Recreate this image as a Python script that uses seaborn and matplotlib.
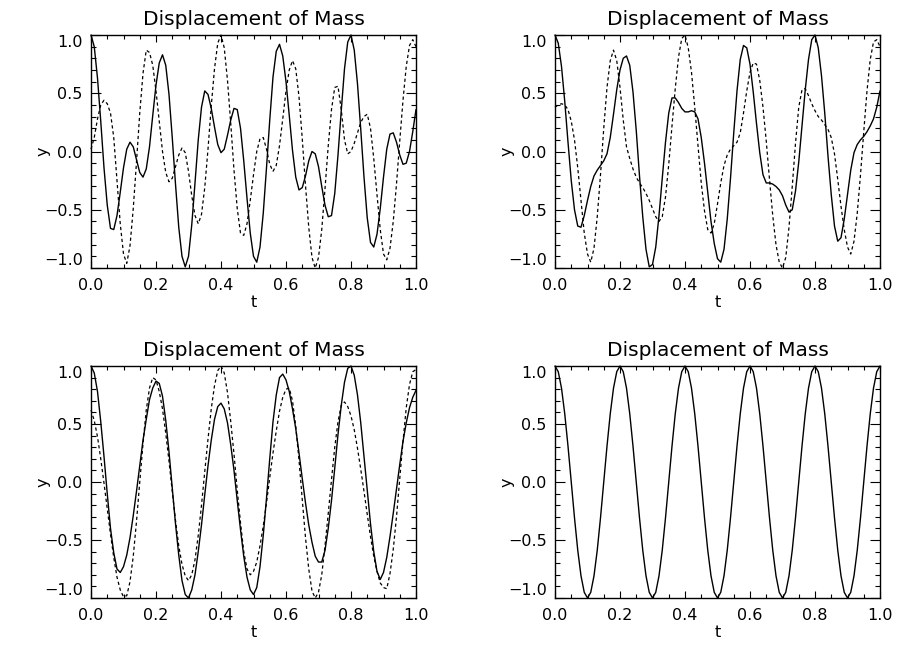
import matplotlib
matplotlib.use("Agg")
import matplotlib.pyplot as plt
from matplotlib.ticker import MultipleLocator
import seaborn as sns
import pandas as pd

# ---------------- data ----------------
t = [0.00, 0.01, 0.02, 0.03, 0.04, 0.05, 0.06, 0.07, 0.08, 0.09,
     0.10, 0.11, 0.12, 0.13, 0.14, 0.15, 0.16, 0.17, 0.18, 0.19,
     0.20, 0.21, 0.22, 0.23, 0.24, 0.25, 0.26, 0.27, 0.28, 0.29,
     0.30, 0.31, 0.32, 0.33, 0.34, 0.35, 0.36, 0.37, 0.38, 0.39,
     0.40, 0.41, 0.42, 0.43, 0.44, 0.45, 0.46, 0.47, 0.48, 0.49,
     0.50, 0.51, 0.52, 0.53, 0.54, 0.55, 0.56, 0.57, 0.58, 0.59,
     0.60, 0.61, 0.62, 0.63, 0.64, 0.65, 0.66, 0.67, 0.68, 0.69,
     0.70, 0.71, 0.72, 0.73, 0.74, 0.75, 0.76, 0.77, 0.78, 0.79,
     0.80, 0.81, 0.82, 0.83, 0.84, 0.85, 0.86, 0.87, 0.88, 0.89,
     0.90, 0.91, 0.92, 0.93, 0.94, 0.95, 0.96, 0.97, 0.98, 0.99,
     1.00]

tl_solid = [1.00, 0.90, 0.63, 0.26, -0.14, -0.46, -0.66, -0.67, -0.55, -0.35,
            -0.14, 0.02, 0.08, 0.04, -0.07, -0.18, -0.22, -0.15, 0.04, 0.31,
            0.57, 0.76, 0.83, 0.74, 0.49, 0.12, -0.28, -0.65, -0.90, -0.99,
            -0.90, -0.63, -0.27, 0.10, 0.38, 0.52, 0.49, 0.37, 0.21, 0.06,
            -0.01, 0.02, 0.14, 0.27, 0.37, 0.36, 0.20, -0.08, -0.40, -0.70,
            -0.90, -0.95, -0.82, -0.53, -0.14, 0.27, 0.64, 0.86, 0.92, 0.82,
            0.60, 0.31, 0.01, -0.22, -0.33, -0.31, -0.21, -0.08, 0.00, -0.02,
            -0.13, -0.30, -0.46, -0.56, -0.55, -0.36, -0.03, 0.35, 0.71, 0.94,
            1.00, 0.87, 0.58, 0.19, -0.22, -0.57, -0.78, -0.82, -0.71, -0.49,
            -0.22, 0.02, 0.15, 0.16, 0.08, -0.03, -0.11, -0.10, 0.00, 0.17,
            0.36]

tl_dotted = [0.02, 0.12, 0.28, 0.40, 0.44, 0.41, 0.33, 0.12, -0.25, -0.62,
             -0.88, -0.96, -0.81, -0.49, -0.09, 0.33, 0.67, 0.87, 0.85, 0.74,
             0.52, 0.26, 0.00, -0.18, -0.26, -0.23, -0.13, -0.03, 0.03, -0.01,
             -0.17, -0.38, -0.55, -0.62, -0.54, -0.31, 0.02, 0.39, 0.71, 0.93,
             1.00, 0.89, 0.61, 0.24, -0.16, -0.49, -0.70, -0.72, -0.62, -0.42,
             -0.20, 0.00, 0.11, 0.12, 0.02, -0.11, -0.17, -0.12, 0.05, 0.28,
             0.52, 0.70, 0.78, 0.71, 0.47, 0.11, -0.29, -0.65, -0.91, -1.00,
             -0.91, -0.67, -0.32, 0.05, 0.36, 0.55, 0.56, 0.36, 0.10, -0.02,
             0.00, 0.07, 0.16, 0.25, 0.30, 0.32, 0.20, -0.06, -0.37, -0.67,
             -0.88, -0.93, -0.83, -0.60, -0.28, 0.09, 0.44, 0.73, 0.91, 0.96,
             0.90]

tr_solid = [1.00, 0.93, 0.73, 0.43, 0.08, -0.25, -0.50, -0.64, -0.65, -0.55,
            -0.42, -0.30, -0.21, -0.16, -0.12, -0.08, -0.02, 0.12, 0.32, 0.53,
            0.70, 0.80, 0.82, 0.74, 0.51, 0.18, -0.21, -0.56, -0.84, -0.99,
            -0.97, -0.82, -0.55, -0.23, 0.08, 0.33, 0.46, 0.46, 0.42, 0.37,
            0.34, 0.34, 0.35, 0.34, 0.28, 0.12, -0.10, -0.35, -0.60, -0.79,
            -0.92, -0.95, -0.84, -0.58, -0.23, 0.16, 0.52, 0.79, 0.91, 0.89,
            0.75, 0.51, 0.24, -0.01, -0.20, -0.27, -0.27, -0.28, -0.30, -0.33,
            -0.38, -0.46, -0.52, -0.50, -0.34, -0.09, 0.22, 0.53, 0.79, 0.96,
            1.00, 0.89, 0.65, 0.33, -0.04, -0.37, -0.64, -0.77, -0.74, -0.58,
            -0.37, -0.16, -0.01, 0.06, 0.10, 0.13, 0.17, 0.22, 0.28, 0.38,
            0.52]

tr_dotted = [0.38, 0.40, 0.41, 0.40, 0.36, 0.26, 0.10, -0.14, -0.42, -0.70,
             -0.88, -0.95, -0.83, -0.56, -0.20, 0.20, 0.55, 0.78, 0.87, 0.78,
             0.55, 0.27, 0.04, -0.06, -0.15, -0.22, -0.27, -0.31, -0.36, -0.42,
             -0.49, -0.56, -0.60, -0.56, -0.39, -0.11, 0.22, 0.54, 0.81, 0.97,
             1.00, 0.89, 0.68, 0.38, 0.05, -0.27, -0.51, -0.67, -0.70, -0.62,
             -0.45, -0.27, -0.12, -0.03, 0.02, 0.05, 0.08, 0.16, 0.33, 0.52,
             0.68, 0.76, 0.75, 0.61, 0.38, 0.09, -0.24, -0.55, -0.80, -0.95,
             -1.00, -0.91, -0.65, -0.30, 0.07, 0.38, 0.53, 0.54, 0.48, 0.41,
             0.35, 0.30, 0.27, 0.23, 0.19, 0.12, -0.02, -0.24, -0.47, -0.67,
             -0.82, -0.88, -0.77, -0.53, -0.20, 0.17, 0.52, 0.79, 0.94, 0.96,
             0.90]

bl_solid = [1.00, 0.94, 0.78, 0.52, 0.22, -0.10, -0.40, -0.61, -0.75, -0.78,
            -0.73, -0.63, -0.48, -0.29, -0.08, 0.14, 0.36, 0.54, 0.71, 0.81,
            0.87, 0.85, 0.74, 0.53, 0.26, -0.05, -0.36, -0.63, -0.85, -0.97,
            -1.00, -0.93, -0.80, -0.60, -0.37, -0.11, 0.14, 0.36, 0.54, 0.65,
            0.68, 0.63, 0.51, 0.32, 0.10, -0.16, -0.41, -0.64, -0.82, -0.93,
            -0.97, -0.91, -0.73, -0.46, -0.14, 0.20, 0.52, 0.75, 0.90, 0.93,
            0.88, 0.78, 0.63, 0.46, 0.25, 0.03, -0.18, -0.37, -0.52, -0.64,
            -0.69, -0.69, -0.59, -0.40, -0.16, 0.12, 0.41, 0.66, 0.86, 0.98,
            1.00, 0.92, 0.75, 0.51, 0.22, -0.07, -0.36, -0.60, -0.77, -0.84,
            -0.78, -0.65, -0.47, -0.27, -0.06, 0.15, 0.35, 0.51, 0.64, 0.73,
            0.79]

bl_dotted = [0.62, 0.53, 0.39, 0.20, -0.01, -0.23, -0.45, -0.65, -0.82, -0.93,
             -0.99, -0.98, -0.86, -0.64, -0.34, 0.00, 0.33, 0.62, 0.81, 0.90,
             0.88, 0.78, 0.63, 0.42, 0.18, -0.08, -0.33, -0.55, -0.71, -0.81,
             -0.85, -0.80, -0.67, -0.46, -0.20, 0.09, 0.37, 0.63, 0.83, 0.96,
             1.00, 0.94, 0.77, 0.52, 0.24, -0.07, -0.35, -0.60, -0.75, -0.80,
             -0.77, -0.69, -0.55, -0.38, -0.18, 0.04, 0.25, 0.44, 0.61, 0.73,
             0.80, 0.81, 0.70, 0.48, 0.19, -0.15, -0.48, -0.75, -0.94, -1.00,
             -0.95, -0.80, -0.55, -0.27, 0.02, 0.30, 0.52, 0.66, 0.69, 0.65,
             0.57, 0.45, 0.29, 0.11, -0.08, -0.28, -0.47, -0.64, -0.77, -0.87,
             -0.91, -0.92, -0.79, -0.58, -0.30, 0.03, 0.35, 0.64, 0.84, 0.95,
             0.97]

br_solid = [1.000, 0.951, 0.809, 0.588, 0.309, 0.000, -0.309, -0.588, -0.809, -0.951,
            -1.000, -0.951, -0.809, -0.588, -0.309, 0.000, 0.309, 0.588, 0.809, 0.951,
            1.000, 0.951, 0.809, 0.588, 0.309, 0.000, -0.309, -0.588, -0.809, -0.951,
            -1.000, -0.951, -0.809, -0.588, -0.309, 0.000, 0.309, 0.588, 0.809, 0.951,
            1.000, 0.951, 0.809, 0.588, 0.309, 0.000, -0.309, -0.588, -0.809, -0.951,
            -1.000, -0.951, -0.809, -0.588, -0.309, 0.000, 0.309, 0.588, 0.809, 0.951,
            1.000, 0.951, 0.809, 0.588, 0.309, 0.000, -0.309, -0.588, -0.809, -0.951,
            -1.000, -0.951, -0.809, -0.588, -0.309, 0.000, 0.309, 0.588, 0.809, 0.951,
            1.000, 0.951, 0.809, 0.588, 0.309, 0.000, -0.309, -0.588, -0.809, -0.951,
            -1.000, -0.951, -0.809, -0.588, -0.309, 0.000, 0.309, 0.588, 0.809, 0.951,
            1.000]

x_ticks = [0.0, 0.2, 0.4, 0.6, 0.8, 1.0]
x_tick_labels = ["0.0", "0.2", "0.4", "0.6", "0.8", "1.0"]
y_ticks = [-1.0, -0.5, 0.0, 0.5, 1.0]
y_tick_labels = ["\u22121.0", "\u22120.5", "0.0", "0.5", "1.0"]
title_text = "Displacement of Mass"

# ---------------- style ----------------
sns.set_theme(style="white")
plt.rcParams["font.family"] = ["DejaVu Sans"]
for key in ["text.color", "axes.labelcolor", "xtick.color", "ytick.color", "axes.edgecolor"]:
    plt.rcParams[key] = "black"

W, H = 901, 651
fig = plt.figure(figsize=(W / 100, H / 100), dpi=100)
fig.patch.set_facecolor("white")

panels = [
    (91, 35, 233, tl_solid, tl_dotted),
    (555, 35, 233, tr_solid, tr_dotted),
    (91, 366, 232, bl_solid, bl_dotted),
    (555, 366, 232, br_solid, None),
]

for (px, py, ph, solid, dotted) in panels:
    ax = fig.add_axes([px / W, 1 - (py + ph) / H, 325 / W, ph / H])
    ax.set_facecolor("white")
    df = pd.DataFrame({"t": t, "solid": solid})
    if dotted is not None:
        df["dotted"] = dotted
        sns.lineplot(data=df, x="t", y="dotted", ax=ax, color="black",
                     linewidth=0.9, linestyle=(0, (2.6, 2.2)),
                     estimator=None, errorbar=None, clip_on=False)
    sns.lineplot(data=df, x="t", y="solid", ax=ax, color="black",
                 linewidth=1.0, estimator=None, errorbar=None, clip_on=False)

    ax.set_xlim(0, 1)
    ax.set_ylim(-1, 1)
    ax.set_xticks(x_ticks)
    ax.set_xticklabels(x_tick_labels)
    ax.set_yticks(y_ticks)
    ax.set_yticklabels(y_tick_labels)
    ax.xaxis.set_minor_locator(MultipleLocator(0.05))
    ax.yaxis.set_minor_locator(MultipleLocator(0.1))
    ax.tick_params(which="both", direction="in", top=True, right=True,
                   bottom=True, left=True, color="black", width=0.8,
                   labelsize=11.5)
    ax.tick_params(axis="x", which="major", length=5, pad=7)
    ax.tick_params(axis="x", which="minor", length=2.8)
    ax.tick_params(axis="y", which="major", length=7, pad=6)
    ax.tick_params(axis="y", which="minor", length=3.5)
    ylbls = ax.get_yticklabels()
    ylbls[0].set_verticalalignment("bottom")
    ylbls[-1].set_verticalalignment("top")
    for s in ax.spines.values():
        s.set_visible(True)
        s.set_color("black")
        s.set_linewidth(1.0)

    ax.set_title(title_text, fontsize=14.5, pad=7)
    ax.set_xlabel("t", fontsize=11.5)
    ax.set_ylabel("y", fontsize=11.5)
    ax.xaxis.set_label_coords(0.5, -0.115)
    ax.yaxis.set_label_coords(-0.125, 0.5)

fig.savefig("out.png", dpi=100, facecolor="white")
